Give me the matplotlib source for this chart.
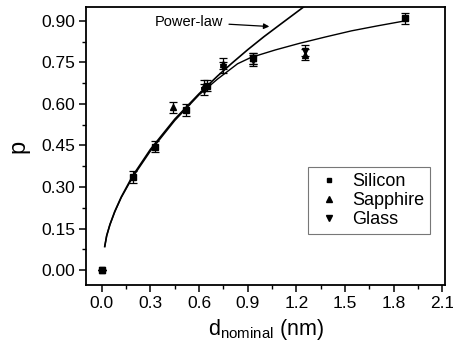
import numpy as np
import matplotlib
matplotlib.use('Agg')
import matplotlib.pyplot as plt
from matplotlib.lines import Line2D
from matplotlib.ticker import MultipleLocator, FormatStrFormatter

plt.rcParams['font.family'] = ['Liberation Sans', 'DejaVu Sans']
plt.rcParams['mathtext.fontset'] = 'custom'
plt.rcParams['mathtext.rm'] = 'Liberation Sans'
plt.rcParams['mathtext.it'] = 'Liberation Sans'

# measured points (d_nominal in nm, p)
si_x = [0.0, 0.19, 0.33, 0.52, 0.65, 0.93, 1.87]
si_y = [0.0, 0.337, 0.446, 0.578, 0.665, 0.765, 0.910]
si_err = [0.0, 0.022, 0.02, 0.02, 0.02, 0.02, 0.02]

sa_x = [0.0, 0.44, 0.63, 0.75, 0.93, 1.25]
sa_y = [0.0, 0.588, 0.665, 0.745, 0.765, 0.778]
sa_err = [0.0, 0.02, 0.02, 0.02, 0.02, 0.02]

gl_x = [0.0, 0.63, 0.75, 0.93, 1.25]
gl_y = [0.0, 0.652, 0.732, 0.758, 0.792]
gl_err = [0.0, 0.02, 0.02, 0.02, 0.02]

# curves
pl_x = [0.018, 0.03, 0.05, 0.08, 0.12, 0.19, 0.3, 0.45, 0.6, 0.714, 0.8, 0.9, 1.0, 1.1, 1.244]
pl_y = [0.085, 0.124, 0.164, 0.212, 0.264, 0.34, 0.436, 0.545, 0.637, 0.701, 0.746, 0.796, 0.843, 0.887, 0.95]

fit_x = [0.018, 0.03, 0.05, 0.08, 0.12, 0.19, 0.3, 0.45, 0.6, 0.714, 0.837, 0.92, 1.07, 1.22, 1.38, 1.54, 1.7, 1.87]
fit_y = [0.085, 0.124, 0.164, 0.21, 0.262, 0.335, 0.43, 0.54, 0.633, 0.69, 0.745, 0.768, 0.795, 0.819, 0.842, 0.864, 0.882, 0.900]

fig = plt.figure(figsize=(4.53, 3.51), dpi=100)
ax = fig.add_axes([0.19, 0.188, 0.793, 0.792])

ax.plot(pl_x, pl_y, color='black', lw=1.2)
ax.plot(fit_x, fit_y, color='black', lw=1.0)

ebkw = dict(ls='none', color='black', ecolor='black', elinewidth=0.9, capsize=3, capthick=0.9)
ax.errorbar(si_x, si_y, yerr=si_err, marker='s', ms=4.5, **ebkw)
ax.errorbar(sa_x, sa_y, yerr=sa_err, marker='^', ms=5, **ebkw)
ax.errorbar(gl_x, gl_y, yerr=gl_err, marker='v', ms=5, **ebkw)

ax.annotate('Power-law', xy=(1.05, 0.879), xytext=(0.75, 0.896),
            fontsize=10.5, ha='right', va='center',
            arrowprops=dict(arrowstyle='-|>', color='black', lw=0.9, mutation_scale=8))

ax.set_xlim(-0.097, 2.118)
ax.set_ylim(-0.054, 0.95)
ax.xaxis.set_major_locator(MultipleLocator(0.3))
ax.xaxis.set_minor_locator(MultipleLocator(0.15))
ax.yaxis.set_major_locator(MultipleLocator(0.15))
ax.yaxis.set_minor_locator(MultipleLocator(0.075))
ax.xaxis.set_major_formatter(FormatStrFormatter('%.1f'))
ax.yaxis.set_major_formatter(FormatStrFormatter('%.2f'))
ax.tick_params(which='major', direction='out', length=5, width=1.1, labelsize=12.5, pad=3)
ax.tick_params(which='minor', direction='out', length=3, width=1.0)
ax.tick_params(top=False, right=False)
for s in ax.spines.values():
    s.set_linewidth(1.3)

ax.set_xlabel(r'd$_{\mathrm{nominal}}$ (nm)', fontsize=15.5, labelpad=4)
ax.set_ylabel('p', fontsize=17, labelpad=8)

handles = [Line2D([], [], ls='none', marker='s', ms=3.5, color='black'),
           Line2D([], [], ls='none', marker='^', ms=4, color='black'),
           Line2D([], [], ls='none', marker='v', ms=4, color='black')]
leg = ax.legend(handles, ['Silicon', 'Sapphire', 'Glass'],
                loc='lower right', bbox_to_anchor=(0.958, 0.183), borderaxespad=0,
                fontsize=13, frameon=True, fancybox=False, edgecolor='#555555',
                handlelength=1.7, handletextpad=0.4, borderpad=0.35, labelspacing=0.1)
leg.get_frame().set_linewidth(0.8)

fig.savefig('out.png', dpi=100)
